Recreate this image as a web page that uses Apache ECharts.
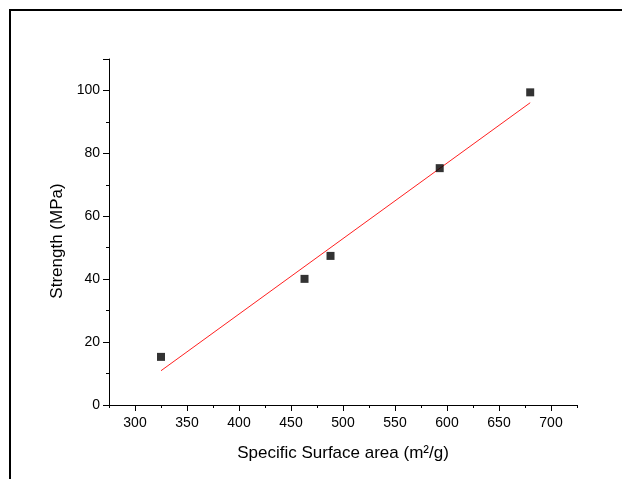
<!DOCTYPE html>
<html>
<head>
<meta charset="utf-8">
<script src="https://cdn.jsdelivr.net/npm/echarts@6/dist/echarts.min.js"></script>
<style>
  html, body { margin: 0; padding: 0; background: #ffffff; }
  #chart { width: 622px; height: 479px; }
</style>
</head>
<body>
<div id="chart"></div>
<script>
// Measured samples: specific surface area (m²/g) vs. strength (MPa)
const surfaceArea = [325, 463, 488, 593, 680];
const strength = [15.3, 40.1, 47.4, 75.3, 99.4];

// Linear fit drawn between its two end points
const fitArea = [325, 680];
const fitStrength = [10.9, 96.1];

// Labelled (major) ticks on the x axis
const xMajorTicks = [300, 350, 400, 450, 500, 550, 600, 650, 700];

const xTitle = 'Specific Surface area (m²/g)';
const yTitle = 'Strength (MPa)';

const font = '"Liberation Sans", Arial, sans-serif';

const chart = echarts.init(document.getElementById('chart'), null, { renderer: 'canvas' });

const tickStyle = { color: '#000', width: 1 };
const labelStyle = { color: '#000', fontSize: 14, fontFamily: font };
const nameStyle = { color: '#000', fontSize: 17, fontFamily: font };

chart.setOption({
  backgroundColor: '#ffffff',
  animation: false,
  grid: { left: 109, right: 45, top: 59, bottom: 74, containLabel: false },
  xAxis: [
    {
      // axis line, minor ticks every 25, labels every 50
      type: 'value',
      position: 'bottom',
      min: 275,
      max: 725,
      interval: 25,
      name: xTitle,
      nameLocation: 'middle',
      nameGap: 40,
      nameTextStyle: nameStyle,
      axisLine: { show: true, onZero: false, lineStyle: tickStyle },
      axisTick: { show: true, inside: false, length: 3, lineStyle: tickStyle },
      splitLine: { show: false },
      axisLabel: Object.assign({}, labelStyle, {
        margin: 11,
        formatter: v => (xMajorTicks.indexOf(v) >= 0 ? String(v) : '')
      })
    },
    {
      // longer major ticks at the labelled values
      type: 'value',
      position: 'bottom',
      offset: 0,
      min: 275,
      max: 725,
      axisLine: { show: false },
      axisTick: { show: true, inside: false, length: 6, lineStyle: tickStyle, customValues: xMajorTicks },
      axisLabel: { show: false },
      splitLine: { show: false }
    }
  ],
  yAxis: {
    type: 'value',
    min: 0,
    max: 110,
    interval: 20,
    name: yTitle,
    nameLocation: 'middle',
    nameGap: 43,
    nameTextStyle: Object.assign({}, nameStyle, { padding: [0, 18, 0, 0] }),
    axisLine: { show: true, onZero: false, lineStyle: tickStyle },
    axisTick: { show: true, inside: false, length: 6, lineStyle: tickStyle },
    minorTick: { show: true, splitNumber: 2, length: 3, lineStyle: tickStyle },
    splitLine: { show: false },
    axisLabel: Object.assign({}, labelStyle, {
      margin: 9,
      formatter: v => (v % 20 === 0 ? String(v) : '')
    })
  },
  graphic: [
    {
      type: 'rect',
      silent: true,
      shape: { x: 10, y: 10, width: 700, height: 600 },
      style: { fill: 'none', stroke: '#000', lineWidth: 2 }
    }
  ],
  series: [
    {
      type: 'line',
      xAxisIndex: 0,
      data: fitArea.map((x, i) => [x, fitStrength[i]]),
      showSymbol: false,
      symbol: 'none',
      lineStyle: { color: '#ff2020', width: 1 },
      z: 2
    },
    {
      type: 'scatter',
      xAxisIndex: 0,
      data: surfaceArea.map((x, i) => [x, strength[i]]),
      symbol: 'rect',
      symbolSize: 8,
      itemStyle: { color: '#000' },
      z: 3
    }
  ]
});
</script>
</body>
</html>
